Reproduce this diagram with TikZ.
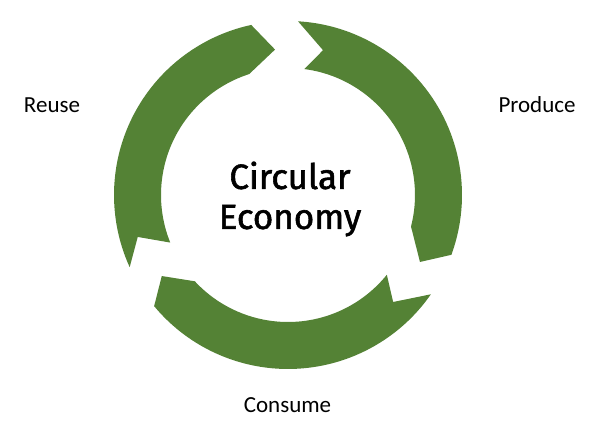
\documentclass[tikz,border=0pt]{standalone}
\usepackage{fontspec}
\setmainfont{Carlito}
\newfontfamily\titlefont{Fira Sans}[RawFeature={embolden=1.6}]
\usepackage{tikz}

\definecolor{ringgreen}{RGB}{84,130,53}

\begin{document}
\begin{tikzpicture}[x=0.5pt, y=0.5pt,
  ringarrow/.style={fill=ringgreen},
  steplabel/.style={anchor=base, font=\fontsize{11.5}{14}\selectfont},
  title/.style={align=center, font=\titlefont\fontsize{17.5}{20}\selectfont}]

\useasboundingbox (0,0) rectangle (600,424);

%% Define the nodes
% o = outer (ring)
% i = inner (ring)
% n = notch (start of an arrow)
% t = tip (end of an arrow)
% e = end
\coordinate (C) at (288,229);

\begin{scope}[shift={(C)}]
	% reuse
	\coordinate (RUo)  at (204.5:174);
	\coordinate (RUn)  at (195.6:156);
	\coordinate (RUi)  at (202:127);
	\coordinate (RUt)  at (95.1:146);
	\coordinate (RUeo) at (102.2:174);
	% produce
	\coordinate (PRo)  at (86.7:174);
	\coordinate (PRn)  at (76.4:149);
	\coordinate (PRi)  at (82.6:127);
	\coordinate (PRt)  at (-26.9:148);
	\coordinate (PReo) at (-20.1:174);
	% consume
	\coordinate (COo)  at (-34.8:174);
	\coordinate (COn)  at (-45.5:150);
	\coordinate (COi)  at (-38.9:127);
	\coordinate (COt)  at (-147.3:150);
	\coordinate (COeo) at (-140.3:174);
\end{scope}

%% Draw the arrows
\fill [ringarrow] (RUo) -- (RUn) -- (RUi) arc [start angle=202, end angle=107.8, radius=127]
	-- (RUt) -- (RUeo) arc [start angle=102.2, end angle=204.5, radius=174] -- cycle;
\fill [ringarrow] (PRo) -- (PRn) -- (PRi) arc [start angle=82.6, end angle=-14.4, radius=127]
	-- (PRt) -- (PReo) arc [start angle=-20.1, end angle=86.7, radius=174] -- cycle;
\fill [ringarrow] (COo) -- (COn) -- (COi) arc [start angle=-38.9, end angle=-137.2, radius=127]
	-- (COt) -- (COeo) arc [start angle=-140.3, end angle=-34.8, radius=174] -- cycle;

%% Labels
\node [title] (CE) at (290,225) {Circular\\Economy};
\node [steplabel] (reuse) at (52,312) {Reuse};
\node [steplabel] (produce) at (537,312) {Produce};
\node [steplabel] (consume) at (287.5,12) {Consume};

\end{tikzpicture}
\end{document}
